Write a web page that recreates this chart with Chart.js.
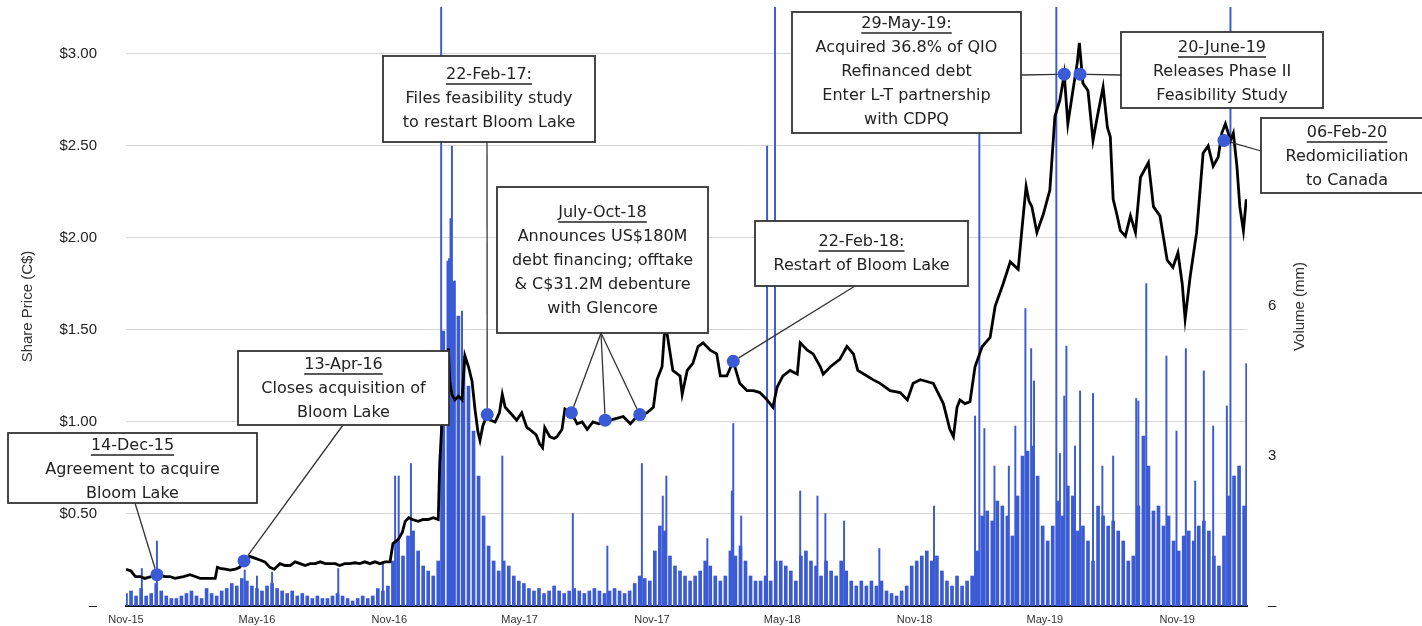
<!DOCTYPE html>
<html>
<head>
<meta charset="utf-8">
<script src="https://cdn.jsdelivr.net/npm/chart.js@4.4.1/dist/chart.umd.min.js"></script>
<style>
  html, body { margin: 0; padding: 0; background: #fff; }
</style>
</head>
<body>
<canvas id="shareChart" width="1422" height="626"></canvas>
<script>
'use strict';
// all x values are days counted from 1 Nov 2015
const tickDays = [0, 182, 366, 547, 731, 912, 1096, 1277, 1461];
const tickLabels = ['Nov-15', 'May-16', 'Nov-16', 'May-17', 'Nov-17', 'May-18', 'Nov-18', 'May-19', 'Nov-19'];
const priceTicks = [0, 0.5, 1, 1.5, 2, 2.5, 3];
const volumeTicks = [0, 3, 6];

// share price, C$
const priceDays = [
  0, 7, 13, 20, 26, 35, 43, 54, 61, 68, 80, 89, 96, 103, 110, 117, 124, 127, 131, 138,
  145, 152, 158, 164, 172, 179, 186, 193, 200, 206, 214, 221, 228, 235, 242, 249, 256, 263, 270, 277,
  284, 291, 297, 304, 311, 318, 325, 332, 339, 346, 353, 360, 367, 371, 378, 384, 388, 393, 398, 406,
  413, 420, 427, 434, 436, 441, 445, 448, 450, 453, 457, 462, 467, 471, 476, 481, 485, 489, 492, 496,
  502, 506, 513, 519, 523, 527, 534, 543, 550, 557, 564, 570, 575, 579, 582, 589, 595, 599, 606, 610,
  619, 627, 634, 641, 649, 657, 666, 673, 682, 691, 701, 708, 714, 724, 733, 738, 745, 749, 752, 760,
  770, 773, 780, 788, 795, 802, 812, 821, 826, 835, 844, 853, 863, 872, 881, 891, 899, 905, 913, 923,
  933, 937, 947, 955, 965, 969, 979, 992, 1002, 1011, 1017, 1030, 1038, 1048, 1062, 1076, 1086, 1094, 1104, 1113,
  1122, 1136, 1145, 1150, 1155, 1159, 1166, 1173, 1180, 1190, 1201, 1208, 1219, 1229, 1240, 1245, 1251, 1255, 1259, 1266,
  1275, 1284, 1291, 1298, 1304, 1309, 1316, 1322, 1325, 1330, 1337, 1344, 1350, 1358, 1364, 1368, 1372, 1377, 1382, 1389,
  1396, 1403, 1410, 1421, 1428, 1437, 1447, 1455, 1462, 1468, 1472, 1479, 1488, 1497, 1504, 1511, 1518, 1523, 1528, 1535,
  1539, 1544, 1548, 1553, 1557
];
const priceValues = [
  0.20, 0.19, 0.16, 0.16, 0.15, 0.16, 0.17, 0.16, 0.16, 0.15, 0.16, 0.17, 0.16, 0.15, 0.15, 0.15, 0.15, 0.21, 0.205, 0.20,
  0.195, 0.20, 0.21, 0.245, 0.27, 0.26, 0.25, 0.24, 0.21, 0.20, 0.23, 0.22, 0.22, 0.24, 0.23, 0.22, 0.23, 0.23, 0.24, 0.23,
  0.23, 0.23, 0.22, 0.23, 0.23, 0.235, 0.23, 0.24, 0.23, 0.24, 0.23, 0.24, 0.24, 0.34, 0.36, 0.40, 0.46, 0.48, 0.47, 0.46,
  0.47, 0.47, 0.48, 0.47, 0.77, 1.14, 1.30, 1.40, 1.22, 1.15, 1.12, 1.14, 1.12, 1.36, 1.30, 1.22, 1.07, 0.95, 0.90, 0.98,
  1.04, 1.01, 1.00, 1.05, 1.15, 1.08, 1.05, 1.01, 1.05, 0.97, 0.95, 0.93, 0.88, 0.86, 0.97, 0.92, 0.91, 0.92, 0.96, 1.07,
  1.05, 0.99, 1.00, 0.96, 1.00, 0.99, 1.00, 1.01, 1.02, 1.03, 0.99, 1.02, 1.04, 1.05, 1.08, 1.23, 1.30, 1.52, 1.48, 1.28,
  1.25, 1.15, 1.28, 1.32, 1.41, 1.43, 1.39, 1.37, 1.25, 1.25, 1.33, 1.21, 1.17, 1.17, 1.16, 1.12, 1.08, 1.19, 1.25, 1.28,
  1.26, 1.43, 1.39, 1.37, 1.30, 1.26, 1.30, 1.34, 1.41, 1.37, 1.28, 1.25, 1.23, 1.21, 1.17, 1.16, 1.12, 1.21, 1.23, 1.22,
  1.21, 1.10, 0.96, 0.92, 1.08, 1.12, 1.10, 1.11, 1.30, 1.41, 1.46, 1.63, 1.75, 1.87, 1.83, 2.04, 2.28, 2.20, 2.17, 2.03,
  2.13, 2.26, 2.66, 2.75, 2.89, 2.62, 2.80, 2.95, 3.06, 2.84, 2.80, 2.53, 2.66, 2.82, 2.60, 2.55, 2.21, 2.13, 2.04, 2.01,
  2.12, 2.03, 2.33, 2.41, 2.17, 2.12, 1.88, 1.84, 1.92, 1.75, 1.56, 1.79, 2.03, 2.46, 2.50, 2.39, 2.44, 2.57, 2.62, 2.53,
  2.57, 2.39, 2.17, 2.04, 2.21
];

// traded volume (mm), one typical value for each 7-day step from day 0
const volumeWeekly = [
  0.25, 0.30, 0.20, 0.35, 0.20, 0.25, 0.45, 0.30, 0.20, 0.15,
  0.15, 0.20, 0.25, 0.30, 0.20, 0.15, 0.35, 0.25, 0.20, 0.30,
  0.35, 0.45, 0.40, 0.55, 0.50, 0.40, 0.35, 0.30, 0.40, 0.45,
  0.35, 0.30, 0.25, 0.30, 0.20, 0.25, 0.20, 0.15, 0.20, 0.15,
  0.15, 0.20, 0.25, 0.20, 0.15, 0.10, 0.15, 0.20, 0.15, 0.20,
  0.35, 0.30, 0.40, 0.90, 1.30, 1.00, 1.40, 1.50, 1.10, 0.80,
  0.70, 0.60, 0.90, 5.50, 6.90, 6.50, 5.80, 5.00, 4.40, 3.50,
  2.60, 1.80, 1.20, 0.90, 0.70, 0.90, 0.80, 0.60, 0.50, 0.45,
  0.35, 0.30, 0.35, 0.25, 0.30, 0.40, 0.30, 0.25, 0.30, 0.35,
  0.30, 0.25, 0.30, 0.35, 0.30, 0.25, 0.30, 0.35, 0.30, 0.25,
  0.30, 0.45, 0.60, 0.55, 0.50, 1.10, 1.60, 1.50, 1.00, 0.80,
  0.70, 0.60, 0.50, 0.60, 0.70, 0.90, 0.80, 0.60, 0.50, 0.60,
  1.10, 1.00, 1.20, 0.90, 0.60, 0.50, 0.50, 0.60, 0.50, 0.90,
  0.90, 0.80, 0.70, 0.50, 1.00, 1.10, 0.90, 0.80, 0.60, 0.90,
  0.70, 0.60, 0.90, 0.70, 0.50, 0.40, 0.50, 0.40, 0.50, 0.40,
  0.50, 0.30, 0.25, 0.20, 0.30, 0.40, 0.80, 0.90, 1.00, 1.10,
  0.90, 1.00, 0.70, 0.50, 0.40, 0.60, 0.40, 0.50, 0.60, 1.10,
  1.80, 1.90, 1.70, 2.10, 2.00, 1.80, 1.40, 2.20, 3.00, 3.10,
  3.20, 2.60, 1.60, 1.30, 1.60, 2.10, 1.80, 2.40, 2.20, 1.50,
  1.60, 1.30, 0.90, 2.00, 1.80, 1.60, 1.70, 1.50, 1.30, 0.90,
  1.00, 2.00, 3.40, 2.80, 1.90, 2.00, 1.60, 1.80, 1.30, 1.10,
  1.40, 1.50, 1.30, 1.60, 1.70, 1.50, 1.00, 0.80, 1.40, 2.20,
  2.60, 2.80, 2.00
];

// single heavy-volume days (mm); values above the axis top are cut by the plot edge
const spikeDays = [
  22, 43, 165, 182, 203, 295, 357, 374, 379, 396,
  438, 449, 451, 453, 457, 467, 523, 621, 669, 717,
  746, 751, 808, 842, 844, 855, 891, 902, 937, 961,
  972, 998, 1047, 1123, 1180, 1186, 1193, 1207, 1227, 1236,
  1250, 1258, 1262, 1293, 1298, 1304, 1307, 1319, 1326, 1344,
  1357, 1372, 1404, 1407, 1418, 1446, 1460, 1473, 1486, 1498,
  1511, 1530, 1535, 1557
];
const spikeValues = [
  0.75, 1.30, 0.72, 0.60, 0.68, 0.75, 0.85, 2.60, 2.60, 2.85,
  13.0, 6.95, 7.75, 9.20, 6.50, 5.90, 3.00, 1.85, 1.20, 2.85,
  2.20, 2.60, 1.35, 2.30, 3.65, 1.80, 9.20, 13.0, 2.30, 2.20,
  1.85, 1.70, 1.15, 2.00, 3.80, 9.45, 3.55, 2.80, 2.80, 3.60,
  5.95, 5.15, 4.50, 13.0, 3.05, 4.20, 5.20, 3.20, 4.30, 4.25,
  2.80, 3.00, 4.15, 4.10, 6.45, 5.00, 3.50, 5.15, 2.50, 4.70,
  3.60, 4.00, 13.0, 4.85
];

// marked events on the price line
const eventDays = [43, 164, 502, 619, 666, 714, 844, 1304, 1326, 1526];
const eventPrices = [0.17, 0.245, 1.04, 1.05, 1.01, 1.04, 1.33, 2.89, 2.89, 2.53];

const BLUE = '#3b5bd6';
const FONT = "'Liberation Sans', Arial, sans-serif";

// callout boxes: [left, top, width, height] in canvas pixels, leader start point, linked events
const callouts = [
  { lines: ['14-Dec-15', 'Agreement to acquire', 'Bloom Lake'], box: [8, 433, 249, 70], textY: 446, from: [135, 503], events: [0] },
  { lines: ['13-Apr-16', 'Closes acquisition of', 'Bloom Lake'], box: [238, 351, 211, 74], textY: 365, from: [343, 425], events: [1] },
  { lines: ['22-Feb-17:', 'Files feasibility study', 'to restart Bloom Lake'], box: [383, 56, 212, 86], textY: 75, from: [487, 142], events: [2] },
  { lines: ['July-Oct-18', 'Announces US$180M', 'debt financing; offtake', '& C$31.2M debenture', 'with Glencore'], box: [497, 187, 211, 146], textY: 213, from: [601, 333], events: [3, 4, 5] },
  { lines: ['22-Feb-18:', 'Restart of Bloom Lake'], box: [755, 221, 213, 65], textY: 242, from: [855, 286], events: [6] },
  { lines: ['29-May-19:', 'Acquired 36.8% of QIO', 'Refinanced debt', 'Enter L-T partnership', 'with CDPQ'], box: [792, 12, 229, 121], textY: 24, from: [1021, 75], events: [7] },
  { lines: ['20-June-19', 'Releases Phase II', 'Feasibility Study'], box: [1121, 32, 202, 76], textY: 48, from: [1121, 75], events: [8] },
  { lines: ['06-Feb-20', 'Redomiciliation', 'to Canada'], box: [1261, 118, 172, 75], textY: 133, from: [1261, 151], events: [9] }
];

const priceData = priceDays.map((d, i) => ({ x: d, y: priceValues[i] }));
const volumeData = volumeWeekly.map((v, i) => ({ x: i * 7, y: v }));
const spikeData = spikeDays.map((d, i) => ({ x: d, y: spikeValues[i] }));
const eventData = eventDays.map((d, i) => ({ x: d, y: eventPrices[i] }));

const DOT_R = 6.5;

const calloutPlugin = {
  id: 'callouts',
  afterDatasetsDraw(chart) {
    const ctx = chart.ctx;
    const xs = chart.scales.x;
    const ys = chart.scales.y;
    ctx.save();
    callouts.forEach(c => {
      // leader lines, stopping at the edge of each dot
      ctx.strokeStyle = '#333';
      ctx.lineWidth = 1.3;
      c.events.forEach(e => {
        const px = xs.getPixelForValue(eventDays[e]);
        const py = ys.getPixelForValue(eventPrices[e]);
        const dx = px - c.from[0];
        const dy = py - c.from[1];
        const len = Math.sqrt(dx * dx + dy * dy);
        const k = (len - DOT_R) / len;
        ctx.beginPath();
        ctx.moveTo(c.from[0], c.from[1]);
        ctx.lineTo(c.from[0] + dx * k, c.from[1] + dy * k);
        ctx.stroke();
      });
      const [bx, by, bw, bh] = c.box;
      ctx.fillStyle = '#fff';
      ctx.fillRect(bx, by, bw, bh);
      ctx.strokeStyle = '#333';
      ctx.lineWidth = 1.8;
      ctx.strokeRect(bx, by, bw, bh);
      ctx.fillStyle = '#222';
      ctx.font = "16px 'DejaVu Sans'";
      ctx.textAlign = 'center';
      ctx.textBaseline = 'middle';
      const cx = bx + bw / 2;
      c.lines.forEach((t, i) => {
        const ty = c.textY + i * 24;
        ctx.fillText(t, cx, ty);
        if (i === 0) {
          const w = ctx.measureText(t).width;
          ctx.lineWidth = 1.3;
          ctx.strokeStyle = '#222';
          ctx.beginPath();
          ctx.moveTo(cx - w / 2, ty + 9);
          ctx.lineTo(cx + w / 2, ty + 9);
          ctx.stroke();
        }
      });
    });
    ctx.restore();
  },
  afterDraw(chart) {
    const ctx = chart.ctx;
    const area = chart.chartArea;
    const midY = (area.top + area.bottom) / 2;
    ctx.save();
    ctx.fillStyle = '#333';
    ctx.font = '15px ' + FONT;
    ctx.textAlign = 'center';
    ctx.textBaseline = 'middle';
    [[28, 'Share Price (C$)'], [1300, 'Volume (mm)']].forEach(([x, t]) => {
      ctx.save();
      ctx.translate(x, midY);
      ctx.rotate(-Math.PI / 2);
      ctx.fillText(t, 0, 0);
      ctx.restore();
    });
    ctx.restore();
  }
};

function noPadding(axis) {
  axis.paddingTop = 0;
  axis.paddingBottom = 0;
  axis.paddingLeft = 0;
  axis.paddingRight = 0;
}

let chartObject = {
  type: 'line',
  data: {
    datasets: [
      {
        type: 'line',
        label: 'Events',
        data: eventData,
        showLine: false,
        pointRadius: DOT_R,
        pointBackgroundColor: BLUE,
        pointBorderWidth: 0,
        yAxisID: 'y',
        order: 0
      },
      {
        type: 'line',
        label: 'Share price',
        data: priceData,
        borderColor: '#000',
        borderWidth: 2.8,
        pointRadius: 0,
        tension: 0,
        yAxisID: 'y',
        order: 1
      },
      {
        type: 'bar',
        label: 'Volume spikes',
        data: spikeData,
        backgroundColor: BLUE,
        barThickness: 1.3,
        grouped: false,
        yAxisID: 'y2',
        order: 2
      },
      {
        type: 'bar',
        label: 'Volume',
        data: volumeData,
        backgroundColor: BLUE,
        barThickness: 3,
        grouped: false,
        yAxisID: 'y2',
        order: 3
      }
    ]
  },
  options: {
    responsive: false,
    animation: false,
    layout: { padding: { top: 7, left: 0, right: 0, bottom: 0 } },
    plugins: { legend: { display: false }, tooltip: { enabled: false } },
    scales: {
      x: {
        type: 'linear',
        min: 0,
        max: 1558,
        offset: false,
        grid: { display: false, drawTicks: false },
        border: { display: true, color: '#000', width: 2 },
        afterBuildTicks: axis => { axis.ticks = tickDays.map(v => ({ value: v })); },
        afterFit: axis => { axis.height = 20; noPadding(axis); },
        ticks: {
          autoSkip: false,
          maxRotation: 0,
          minRotation: 0,
          padding: 7,
          color: '#333',
          font: { family: FONT, size: 11 },
          callback: (v, i) => tickLabels[i]
        }
      },
      y: {
        position: 'left',
        min: 0,
        max: 3.255,
        grid: {
          drawTicks: false,
          lineWidth: 1,
          color: c => (c.tick && c.tick.value === 0 ? 'rgba(0,0,0,0)' : '#d6d6d6')
        },
        border: { display: false },
        afterBuildTicks: axis => { axis.ticks = priceTicks.map(v => ({ value: v })); },
        afterFit: axis => { axis.width = 126; noPadding(axis); },
        ticks: {
          padding: 29,
          color: '#222',
          font: { family: FONT, size: 15 },
          callback: v => (v === 0 ? '–' : '$' + v.toFixed(2))
        }
      },
      y2: {
        position: 'right',
        min: 0,
        max: 11.98,
        grid: { display: false, drawTicks: false },
        border: { display: false },
        afterBuildTicks: axis => { axis.ticks = volumeTicks.map(v => ({ value: v })); },
        afterFit: axis => { axis.width = 175; noPadding(axis); },
        ticks: {
          padding: 21,
          color: '#222',
          font: { family: FONT, size: 15 },
          callback: v => (v === 0 ? '–' : String(v))
        }
      }
    }
  },
  plugins: [calloutPlugin]
};

let ctx = document.getElementById('shareChart').getContext('2d');
let myChart = new Chart(ctx, chartObject);
</script>
</body>
</html>
